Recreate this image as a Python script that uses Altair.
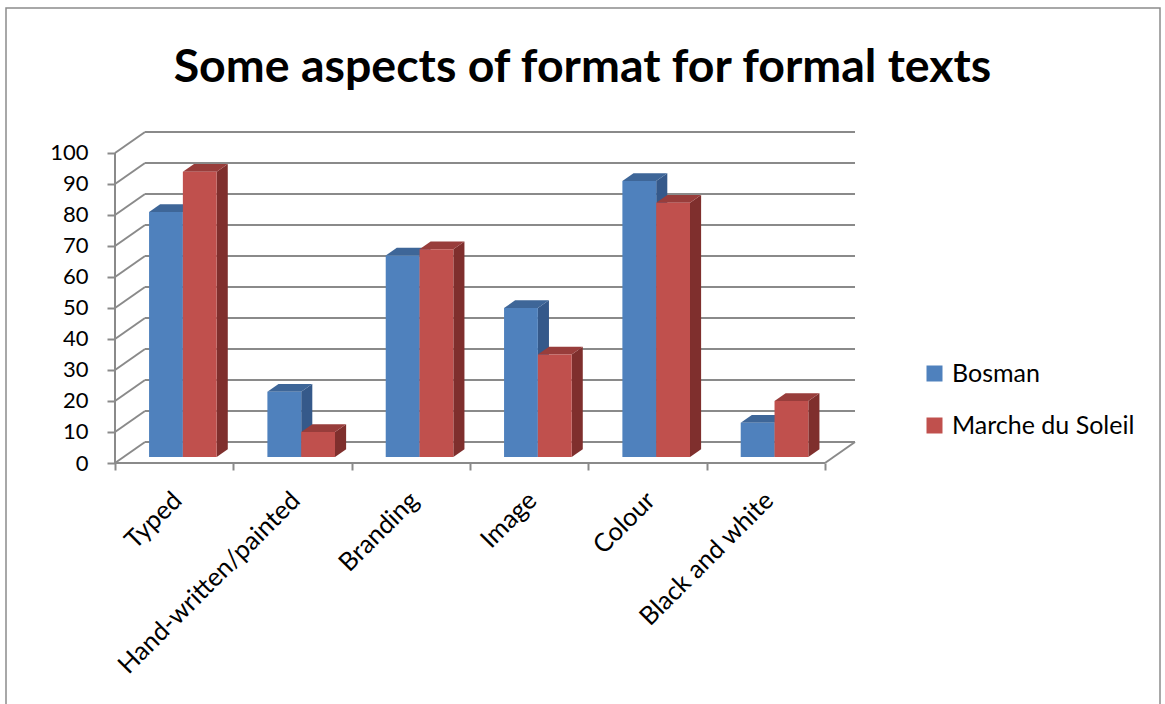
import altair as alt
import pandas as pd

# ---- data ---------------------------------------------------------------
title_text = "Some aspects of format for formal texts"
categories = ["Typed", "Hand-written/painted", "Branding", "Image", "Colour", "Black and white"]
series = ["Bosman", "Marche du Soleil"]
bosman = [79, 21, 65, 48, 89, 11]
marche = [92, 8, 67, 33, 82, 18]
y_ticks = list(range(0, 101, 10))

front_colors = ["#4F81BD", "#C0504D"]
top_colors = ["#3E6698", "#983D3B"]
side_colors = ["#35598A", "#7F2F2D"]
grid_color = "#8A8A8A"

# ---- pseudo-3D projection (all in data units) ---------------------------
N = len(categories)
DEPTH_X = 0.2536      # back wall shift to the right, in category units
DEPTH_Y = 6.77        # back wall shift upwards, in value units
F_FRONT = 0.29        # depth of the columns' front faces (0 = front, 1 = back wall)
F_BACK = 0.66         # depth of the columns' back faces
BAR_W = 1 / 3.5       # two columns plus a 150 % gap per category
BAR_OFF = (1 - 2 * BAR_W) / 2

fx1, fy1 = F_FRONT * DEPTH_X, F_FRONT * DEPTH_Y
fx2, fy2 = F_BACK * DEPTH_X, F_BACK * DEPTH_Y

front_rows, top_rows, side_rows = [], [], []
for s, (name, vals) in enumerate(zip(series, [bosman, marche])):
    for i, (cat, v) in enumerate(zip(categories, vals)):
        bid = f"{s}-{i}"
        xl = i + BAR_OFF + s * BAR_W
        xr = xl + BAR_W
        front_rows.append(dict(category=cat, series=name, value=v,
                               x=xl + fx1, x2=xr + fx1, y=fy1, y2=v + fy1))
        top_rows += [
            dict(id=bid, color=top_colors[s], y=v + fy1, x=xl + fx1, x2=xr + fx1),
            dict(id=bid, color=top_colors[s], y=v + fy2, x=xl + fx2, x2=xr + fx2),
        ]
        side_rows += [
            dict(id=bid, color=side_colors[s], x=xr + fx1, y=fy1, y2=v + fy1),
            dict(id=bid, color=side_colors[s], x=xr + fx2, y=fy2, y2=v + fy2),
        ]

front_df = pd.DataFrame(front_rows)
top_df = pd.DataFrame(top_rows)
side_df = pd.DataFrame(side_rows)

# walls, floor and the value axis line
line_rows = []
for t in y_ticks:
    line_rows.append(dict(x=0, y=t, x2=DEPTH_X, y2=t + DEPTH_Y))                      # side wall
    line_rows.append(dict(x=DEPTH_X, y=t + DEPTH_Y, x2=N + DEPTH_X, y2=t + DEPTH_Y))  # back wall
line_rows.append(dict(x=0, y=0, x2=N, y2=0))                                          # floor front edge
line_rows.append(dict(x=N, y=0, x2=N + DEPTH_X, y2=DEPTH_Y))                          # floor right edge
line_rows.append(dict(x=0, y=0, x2=0, y2=100))                                        # value axis line
lines_df = pd.DataFrame(line_rows)

label_df = pd.DataFrame({"category": categories, "pos": [i + 0.5 for i in range(N)]})

# ---- scales and axes shared by every layer ------------------------------
FONT = "Lato"
XS = alt.Scale(domain=[0, N + DEPTH_X], nice=False, zero=False)
YS = alt.Scale(domain=[0, 100 + DEPTH_Y], nice=False, zero=False)
X_AXIS = alt.Axis(values=list(range(N + 1)), labels=False, domain=False, grid=False,
                  tickSize=7, tickWidth=2, tickColor=grid_color, title=None)
Y_AXIS = alt.Axis(values=y_ticks, domain=False, grid=False, tickSize=8, tickWidth=2,
                  tickColor=grid_color, labelFont=FONT, labelFontSize=22,
                  labelColor="black", labelPadding=19, title=None)


def X(f):
    return alt.X(f, type="quantitative", scale=XS, axis=X_AXIS)


def Y(f):
    return alt.Y(f, type="quantitative", scale=YS, axis=Y_AXIS)


border = alt.Chart(pd.DataFrame({"k": [0]})).mark_rect(
    fillOpacity=0, stroke="#8C8C8C", strokeWidth=1.5
).encode(x=alt.value(-109), x2=alt.value(1045), y=alt.value(-124), y2=alt.value(600))

title = alt.Chart(pd.DataFrame({"t": [title_text]})).mark_text(
    font=FONT, fontSize=46.5, fontWeight="bold", color="black",
    align="center", baseline="alphabetic"
).encode(x=alt.value(467.5), y=alt.value(-50), text="t:N")

walls = alt.Chart(lines_df).mark_rule(color=grid_color, strokeWidth=2).encode(
    x=X("x"), x2="x2", y=Y("y"), y2="y2"
)

sides = alt.Chart(side_df).mark_area(orient="vertical").encode(
    x=X("x"), y=Y("y"), y2="y2", detail="id:N",
    color=alt.Color("color:N", scale=None)
)

tops = alt.Chart(top_df).mark_area(orient="horizontal").encode(
    y=Y("y"), x=X("x"), x2="x2", detail="id:N",
    color=alt.Color("color:N", scale=None)
)

fronts = alt.Chart(front_df).mark_rect().encode(
    x=X("x"), x2="x2", y=Y("y"), y2="y2",
    color=alt.Color(
        "series:N",
        scale=alt.Scale(domain=series, range=front_colors),
        legend=alt.Legend(orient="none", legendX=807, legendY=229, title=None,
                          symbolType="square", symbolSize=256, symbolStrokeWidth=0,
                          labelFont=FONT, labelFontSize=25, labelColor="black",
                          labelOffset=5, labelLimit=0, rowPadding=26, padding=0),
    ),
    tooltip=["category", "series", "value"],
)

labels = alt.Chart(label_df).mark_text(
    angle=315, align="right", baseline="middle", dx=5,
    font=FONT, fontSize=25.5, color="black"
).encode(x=X("pos"), y=alt.value(368), text="category:N")

chart = alt.layer(border, title, walls, sides, tops, fronts, labels).properties(
    width=740,
    height=331,
    autosize=alt.AutoSizeParams(type="none"),
    padding={"left": 115, "top": 132, "right": 310, "bottom": 241},
    background="white",
).configure_view(stroke=None)

chart.save("out.html", embed_options={"renderer": "svg", "actions": False})
